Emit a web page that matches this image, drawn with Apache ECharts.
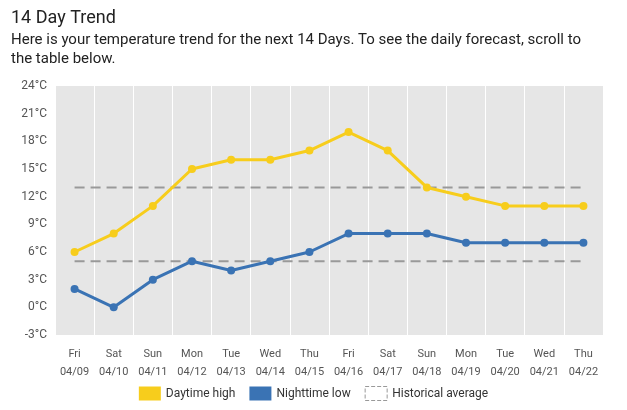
<!DOCTYPE html>
<html>
<head>
<meta charset="utf-8">
<script src="https://cdn.jsdelivr.net/npm/echarts@6/dist/echarts.min.js"></script>
<style>
  html, body { margin: 0; padding: 0; background: #fff; }
  #chart { width: 627px; height: 410px; }
</style>
</head>
<body>
<div id="chart"></div>
<script>
const days = ["Fri", "Sat", "Sun", "Mon", "Tue", "Wed", "Thu", "Fri", "Sat", "Sun", "Mon", "Tue", "Wed", "Thu"];
const dates = ["04/09", "04/10", "04/11", "04/12", "04/13", "04/14", "04/15", "04/16", "04/17", "04/18", "04/19", "04/20", "04/21", "04/22"];
const highs = [6, 8, 11, 15, 16, 16, 17, 19, 17, 13, 12, 11, 11, 11];
const lows = [2, 0, 3, 5, 4, 5, 6, 8, 8, 8, 7, 7, 7, 7];
const avgHigh = [13, 13, 13, 13, 13, 13, 13, 13, 13, 13, 13, 13, 13, 13];
const avgLow = [5, 5, 5, 5, 5, 5, 5, 5, 5, 5, 5, 5, 5, 5];

const chart = echarts.init(document.getElementById("chart"));
const font = "Roboto, Arial, sans-serif";
const labels = days.map((d, i) => d + "\n" + dates[i]);

chart.setOption({
  animation: false,
  textStyle: { fontFamily: font },
  title: {
    text: "14 Day Trend",
    subtext: "Here is your temperature trend for the next 14 Days. To see the daily forecast, scroll to\nthe table below.",
    left: 6,
    top: 4,
    itemGap: 4,
    textStyle: { fontSize: 18, fontWeight: "normal", color: "#222", fontFamily: font },
    subtextStyle: { fontSize: 15, color: "#222", lineHeight: 19, fontFamily: font }
  },
  grid: { left: 55, right: 24, top: 86, bottom: 75, show: true, backgroundColor: "#e6e6e6", borderWidth: 0 },
  legend: {
    bottom: 4,
    left: "center",
    itemWidth: 22,
    itemHeight: 14,
    itemGap: 14,
    icon: "rect",
    textStyle: { fontSize: 12, color: "#333" },
    data: [
      { name: "Daytime high", itemStyle: { color: "#f7cd1c" } },
      { name: "Nighttime low", itemStyle: { color: "#3a73b4" } },
      { name: "Historical average", itemStyle: { color: "#fff", borderColor: "#999", borderType: "dashed", borderWidth: 1 } }
    ]
  },
  xAxis: {
    type: "category",
    data: labels,
    axisLine: { show: false },
    axisTick: { show: false },
    axisLabel: { color: "#555", fontSize: 11, lineHeight: 18, margin: 10 },
    splitLine: { show: true, lineStyle: { color: "#fff", width: 1 } }
  },
  yAxis: {
    type: "value",
    min: -3,
    max: 24,
    interval: 3,
    axisLine: { show: false },
    axisTick: { show: false },
    splitLine: { show: false },
    axisLabel: { color: "#555", fontSize: 12, formatter: "{value}°C", margin: 8 }
  },
  series: [
    {
      name: "Historical average", type: "line", data: avgHigh, symbol: "none",
      lineStyle: { color: "#999", width: 2, type: [10, 6] }, itemStyle: { color: "#fff" }, z: 1
    },
    {
      name: "Historical average", type: "line", data: avgLow, symbol: "none",
      lineStyle: { color: "#999", width: 2, type: [10, 6] }, itemStyle: { color: "#fff" }, z: 1
    },
    {
      name: "Daytime high", type: "line", data: highs, symbol: "circle", symbolSize: 8,
      lineStyle: { color: "#f7cd1c", width: 3 }, itemStyle: { color: "#f7cd1c" }, z: 3
    },
    {
      name: "Nighttime low", type: "line", data: lows, symbol: "circle", symbolSize: 8,
      lineStyle: { color: "#3a73b4", width: 3 }, itemStyle: { color: "#3a73b4" }, z: 3
    }
  ]
});
</script>
</body>
</html>
